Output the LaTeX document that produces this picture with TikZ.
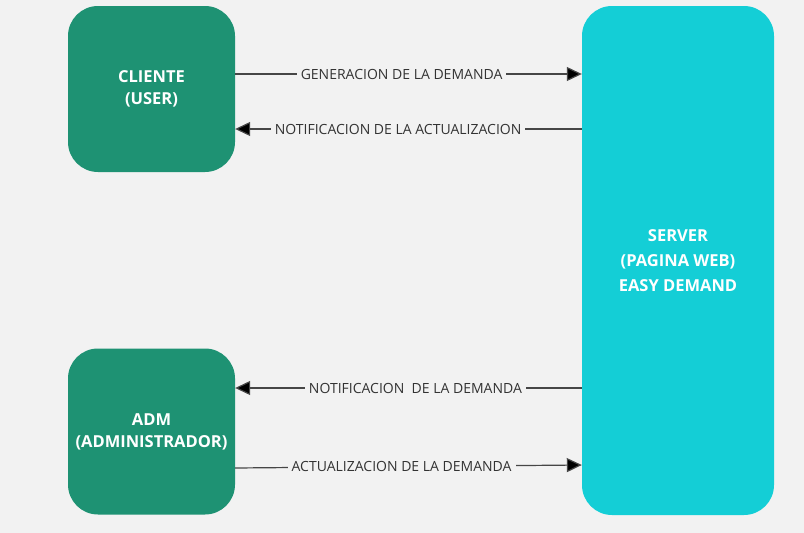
\documentclass[tikz,border=0pt]{standalone}
\usepackage{fontspec}
\setmainfont{Open Sans}
\usepackage{xcolor}
\usetikzlibrary{arrows.meta}
\definecolor{fondo}{RGB}{242,242,242}
\definecolor{verde}{RGB}{30,146,115}
\definecolor{celeste}{RGB}{20,206,214}
\definecolor{linea}{RGB}{70,70,70}
\begin{document}
\begin{tikzpicture}[x=1pt,y=-1pt,
  caja/.style={fill=verde,rounded corners=30pt,minimum width=167pt,minimum height=166pt,text=white,font=\fontsize{16.5}{22}\selectfont\bfseries,align=center},
  flecha/.style={draw=linea,line width=1.2pt,-{Triangle[length=15pt,width=14pt,fill=black]}},
  etiq/.style={fill=fondo,inner sep=4pt,text=black!80,font=\fontsize{14}{16}\selectfont}]
\fill[fondo] (0,0) rectangle (804,533);
\node[caja] (cliente) at (151.5,89) {CLIENTE\\(USER)};
\node[caja] (adm) at (151.5,431.5) {ADM\\(ADMINISTRADOR)};
\node[caja,fill=celeste,minimum width=192pt,minimum height=509pt,font=\fontsize{16.5}{25}\selectfont\bfseries] (server) at (678,260.5) {SERVER\\(PAGINA WEB)\\EASY DEMAND};
\coordinate (c1) at ([yshift=15pt]cliente.east);
\coordinate (c2) at ([yshift=-40pt]cliente.east);
\coordinate (a1) at ([yshift=43.5pt]adm.east);
\coordinate (a2) at ([yshift=-36.5pt]adm.east);
% cliente <-> server
\draw[flecha] (c1) -- (server.west |- c1) node[etiq,pos=0.48] {GENERACION DE LA DEMANDA};
\draw[flecha] (server.west |- c2) -- (c2) node[etiq,pos=0.53] {NOTIFICACION DE LA ACTUALIZACION};
% adm <-> server
\draw[flecha] (server.west |- a1) -- (a1) node[etiq,pos=0.48] {NOTIFICACION\ \ DE LA DEMANDA};
\draw[flecha] (a2) -- ([yshift=3pt]server.west |- a2) node[etiq,pos=0.48] {ACTUALIZACION DE LA DEMANDA};
\end{tikzpicture}
\end{document}
